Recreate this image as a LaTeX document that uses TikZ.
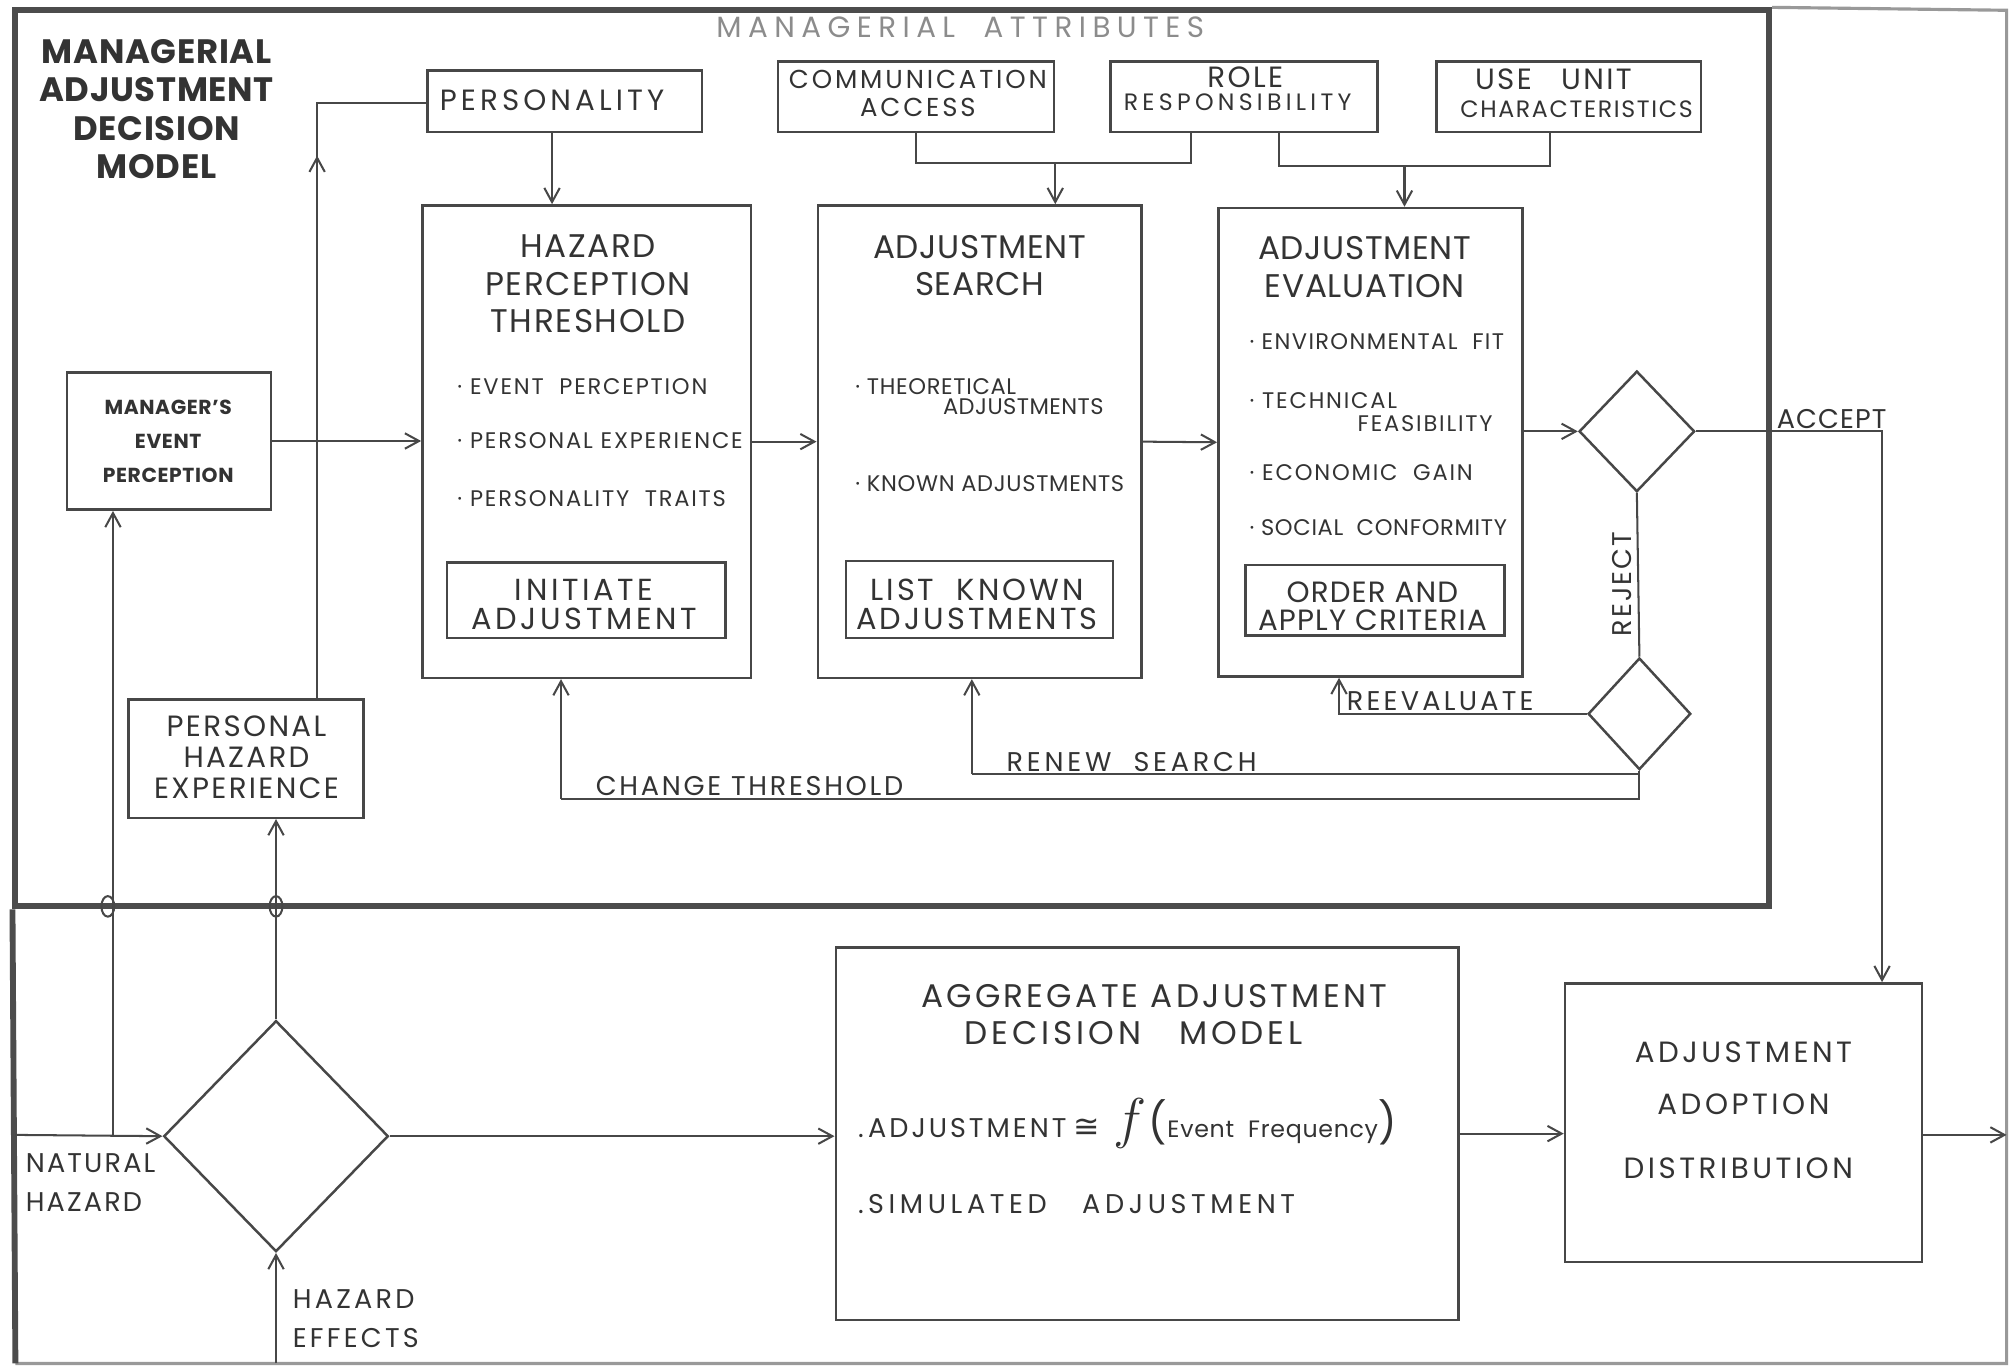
\documentclass[tikz,border=0pt]{standalone}
\usepackage{fontspec}
\setmainfont{Poppins}
\newfontfamily\dejavu{DejaVu Sans}
\usetikzlibrary{shapes.geometric,fit,arrows.meta,decorations.markings}
\newcommand\fsz[3]{\fontsize{#1}{#2}\selectfont\addfontfeatures{LetterSpace=#3}}
\begin{document}
\begin{tikzpicture}[x=0.02cm,y=-0.02cm,
  every node/.style={text=black!80},
  ln/.style={draw=black!72, line width=0.9pt},
  arr/.style={ln, -{Straight Barb[length=2.2mm,width=2.4mm]}},
  midarr/.style={ln, postaction={decorate}, decoration={markings, mark=at position #1 with {\arrow{Straight Barb[length=2.2mm,width=2.4mm]}}}},
  box/.style={draw=black!72, line width=1.1pt, inner sep=0pt},
  dia/.style={diamond, draw=black!72, line width=1.1pt, inner sep=0pt},
  txt/.style={inner sep=0pt, align=center},
  ttl/.style={txt, font=\fsz{15}{17}{2}\bfseries},
  bttl/.style={txt, font=\fsz{14.5}{16.5}{2}},
  bul/.style={inner sep=0pt, font=\fsz{10}{11}{8}, anchor=west},
  bule/.style={inner sep=0pt, font=\fsz{10}{11}{8}, anchor=east},
  inb/.style={txt, font=\fsz{13.5}{13}{12}},
  lab/.style={inner sep=1pt, align=left, font=\fsz{12}{17}{12}},
]
\useasboundingbox (0,0) rectangle (1568,1066);

% ---------- frames
\node[draw=black!70, line width=2.6pt, inner sep=0pt, fit={(12,8)(1378,706)}] (mgr) {};
\draw[draw=black!40, line width=1.4pt] (mgr.north east) -- (1563,8) -- (1563,1062) -- (12,1062);
\draw[draw=black!70, line width=2.6pt] (mgr.south west) -- (12,1062);

% ---------- titles
\node[ttl] (mtitle) at (122,85) {MANAGERIAL\\ADJUSTMENT\\DECISION\\MODEL};
\node[txt, font=\fsz{13}{13}{22}, text=black!45] (attr) at (748,21) {MANAGERIAL\ \ ATTRIBUTES};

% ---------- attribute boxes
\node[box, fit={(333,55)(547,103)}] (pers) {};
\node[txt, font=\fsz{13}{13}{14}] (perst) at (430,78) {PERSONALITY};
\node[box, fit={(606,48)(821,103)}] (comm) {};
\node[txt, font=\fsz{11.5}{12.5}{11}] (commt) at (715,73) {COMMUNICATION\\ACCESS};
\node[box, fit={(865,48)(1073,103)}] (role) {};
\node[txt, font=\fsz{13}{13}{8}] (rolet) at (970,60) {ROLE};
\node[txt, font=\fsz{10.5}{11}{18}] (roleb) at (964,80) {RESPONSIBILITY};
\node[box, fit={(1119,48)(1325,103)}] (useu) {};
\node[txt, font=\fsz{13}{13}{8}] (useut) at (1210,62) {USE\quad UNIT};
\node[txt, font=\fsz{10.5}{12}{7}] (useub) at (1228,85) {CHARACTERISTICS};

% ---------- main boxes
\node[box, fit={(329,160)(585,528)}] (hpt) {};
\node[box, fit={(637,160)(889,528)}] (as) {};
\node[box, fit={(949,162)(1186,527)}] (ae) {};

\node[bttl, font=\fsz{14.5}{16.5}{5}] (hptt) at (458,221) {HAZARD\\PERCEPTION\\THRESHOLD};
\node[bttl] (ast) at (763,207) {ADJUSTMENT\\SEARCH};
\node[bttl] (aet) at (1063,208) {ADJUSTMENT\\EVALUATION};

\node[bul] (b1) at (356,301) {· EVENT\ \ PERCEPTION};
\node[bul] (b2) at (356,343) {· PERSONAL EXPERIENCE};
\node[bul] (b3) at (356,388) {· PERSONALITY\ \ TRAITS};

\node[bul, font=\fsz{10}{11}{3}] (b4) at (666,301) {· THEORETICAL};
\node[bule, font=\fsz{10}{11}{2}] (b4b) at (860,317) {ADJUSTMENTS};
\node[bul, font=\fsz{10}{11}{3}] (b5) at (666,377) {· KNOWN ADJUSTMENTS};

\node[bul, font=\fsz{10}{11}{6}] (b6) at (973,266) {· ENVIRONMENTAL\ \ FIT};
\node[bul] (b7) at (973,312) {· TECHNICAL};
\node[bule] (b7b) at (1163,330) {FEASIBILITY};
\node[bul] (b8) at (973,368) {· ECONOMIC\ \ GAIN};
\node[bul, font=\fsz{10}{11}{3}] (b9) at (973,411) {· SOCIAL\ \ CONFORMITY};

\node[box, fit={(348,438)(565,497)}] (init) {};
\node[inb] (initt) at (455,471) {INITIATE\\ADJUSTMENT};
\node[box, fit={(659,437)(867,497)}] (list) {};
\node[inb, font=\fsz{13.5}{13}{10}] (listt) at (761,471) {LIST\ \ KNOWN\\ADJUSTMENTS};
\node[box, fit={(970,440)(1172,495)}] (order) {};
\node[inb, font=\fsz{13}{12.5}{4}] (ordert) at (1069,472) {ORDER AND\\APPLY CRITERIA};

% ---------- left boxes
\node[box, fit={(52,290)(211,397)}] (mep) {};
\node[txt, font=\fsz{9}{15}{3}\bfseries] (mept) at (131,344) {MANAGER'S\\EVENT\\PERCEPTION};
\node[box, fit={(100,545)(283,637)}] (phe) {};
\node[txt, font=\fsz{13}{13.7}{8}] (phet) at (192,590) {PERSONAL\\HAZARD\\EXPERIENCE};

% ---------- diamonds
\node[dia, minimum width=1.8cm, minimum height=1.88cm] (d1) at (1275,336) {};
\node[dia, minimum width=1.6cm, minimum height=1.74cm] (d2) at (1277,556) {};
\node[dia, minimum width=3.5cm, minimum height=3.6cm] (nh) at (215,885) {};

% ---------- bottom boxes
\node[box, fit={(651,738)(1136,1028)}] (agg) {};
\node[txt, font=\fsz{14.5}{16}{10}] (aggt) at (899,776) {AGGREGATE ADJUSTMENT};
\node[txt, font=\fsz{14.5}{16}{12}] (aggt2) at (883,805) {DECISION\ \ \ MODEL};
\node[inner sep=0pt, anchor=west, font=\fontsize{12}{12}\selectfont] (aggf) at (668,875) {{\addfontfeatures{LetterSpace=11}.\,ADJUSTMENT}\ {\dejavu\fontsize{14}{14}\selectfont ≅}\enspace{\fontsize{28}{28}\selectfont$f$}\kern1pt{\fontsize{18}{18}\selectfont(}{\fsz{10.5}{11}{3}Event\ \ Frequency}{\fontsize{18}{18}\selectfont)}};
\node[inner sep=0pt, anchor=west, font=\fsz{12}{12}{17}] (aggs) at (668,938) {.\,SIMULATED\ \ \ ADJUSTMENT};

\node[box, fit={(1219,766)(1497,983)}] (adopt) {};
\node[txt, font=\fsz{13}{12}{12}] (adopt1) at (1358,820) {ADJUSTMENT};
\node[txt, font=\fsz{13}{12}{12}] (adopt2) at (1358,860) {ADOPTION};
\node[txt, font=\fsz{13}{12}{12}] (adopt3) at (1354,910) {DISTRIBUTION};

% ---------- coordinates for connector bends
\coordinate (c247) at (247,80);
\coordinate (rl) at (928,127);
\coordinate (a1) at (822,127);
\coordinate (rr) at (996,129);
\coordinate (ur) at (1207,129);
\coordinate (a2) at (1094,129);
\coordinate (acc) at (1466,336);
\coordinate (reev) at (1043,556);
\coordinate (rs) at (757,603);
\coordinate (ct) at (437,622);
\coordinate (nhin) at (12,884);
\coordinate (j1) at (88,884);
\coordinate (he) at (215,1062);
\coordinate (out) at (1563,884);

% ---------- connectors, top
\draw[arr] (pers.south -| perst) -- (perst |- hpt.north);
\draw[ln] (comm.south) |- (rl) -- (rl |- role.south);
\draw[arr] (a1) -- (a1 |- as.north);
\draw[ln] (rr |- role.south) -- (rr) -- (ur) -- (ur |- useu.south);
\draw[arr] (a2) -- (a2 |- ae.north);

% ---------- main flow
\draw[arr] (mep.east) -- (mep.east -| hpt.west);
\draw[arr] (hpt.east) -- (as.west);
\draw[arr] (as.east) -- (ae.west);
\draw[arr] (d1.west -| ae.east) -- (d1.west);
\draw[arr] (d1.east) -- (acc) -- (acc |- adopt.north);
\draw[ln] (d1.south) -- (d2.north);
\draw[arr] (d2.west) -- (reev) -- (reev |- ae.south);
\draw[ln] (d2.south) -- (d2.south |- ct) -- (ct);
\draw[arr] (ct) -- (ct |- hpt.south);
\draw[ln] (d2.south |- rs) -- (rs);
\draw[arr] (rs) -- (rs |- as.south);

% ---------- labels on connectors
\node[lab, font=\fsz{12}{17}{4}, anchor=south west] (lacc) at (1382,336) {ACCEPT};
\node[lab, font=\fsz{12}{17}{8}, rotate=90, anchor=south, inner sep=2pt] (lrej) at (1275,455) {REJECT};
\node[lab, anchor=south west] (lree) at (1047,556) {REEVALUATE};
\node[lab, font=\fsz{12}{17}{14}, anchor=south west] (lren) at (782,603) {RENEW\ \ SEARCH};
\node[lab, font=\fsz{12}{17}{10}, anchor=south west] (lchg) at (462,622) {CHANGE\ THRESHOLD};

% ---------- left side
\draw[midarr=0.77] (phe.north -| c247) -- (c247) -- (c247 -| pers.west);
\draw[arr] (nhin) -- (nh.west);
\draw[arr] (j1) -- (j1 |- mep.south);
\draw[arr] (nh.north) -- (nh.north |- phe.south);
\draw[arr] (he) -- (nh.south);
\draw[ln] (84,706) ellipse [x radius=0.1cm, y radius=0.16cm];
\draw[ln] (215,706) ellipse [x radius=0.1cm, y radius=0.16cm];

\node[lab, font=\fsz{12}{17}{8}, anchor=west] (lnh) at (18,921) {NATURAL\\HAZARD};
\node[lab, anchor=west] (lhe) at (226,1027) {HAZARD\\EFFECTS};

% ---------- bottom flow
\draw[arr] (nh.east) -- (nh.east -| agg.west);
\draw[arr] (agg.east) -- (agg.east -| adopt.west);
\draw[arr] (out -| adopt.east) -- (out);
\end{tikzpicture}
\end{document}
